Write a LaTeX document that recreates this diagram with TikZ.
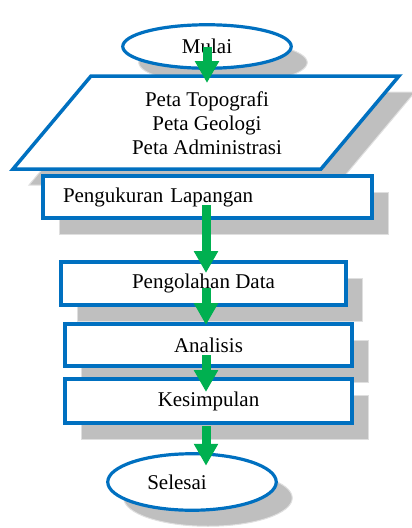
\documentclass[tikz,border=0pt]{standalone}
\usepackage{fontspec}
\setmainfont{Liberation Serif}
\usetikzlibrary{shapes.geometric,shadows,arrows.meta,calc}
\definecolor{biru}{HTML}{0070C0}
\definecolor{hijau}{HTML}{00B050}
\definecolor{bayang}{HTML}{BFBFBF}

\begin{document}
\begin{tikzpicture}[x=1pt,y=-1pt]
\useasboundingbox (0,0) rectangle (412,528);
\tikzstyle{every node}=[font=\fontsize{21}{24}\selectfont, outer sep=0pt];
\tikzstyle{bayangan}=[copy shadow={shadow xshift=16pt, shadow yshift=-16pt,
  fill=bayang, draw=gray!25, line width=1pt}];
\tikzstyle{kotak}=[rectangle, draw=biru, line width=3.5pt, fill=white, bayangan];
\tikzstyle{oval}=[ellipse, draw=biru, line width=3.2pt, fill=white, bayangan];
\tikzstyle{jajar bayang}=[fill=bayang, draw=gray!25, line width=1pt];
\tikzstyle{jajar}=[fill=white, draw=biru, line width=3.5pt];
\tikzstyle{panah}=[hijau, line width=9pt, -{Triangle[width=23pt,length=22pt]}];

  % mulai
  \node[oval, minimum width=168.5pt, minimum height=43.5pt] (mulai) at (207,46.5) {Mulai};

  % data masukan (jajar genjang)
  \foreach \geser/\gaya in {16/jajar bayang, 0/jajar}
    \draw[\gaya, shift={(\geser,\geser)}] (91,76) -- (399,76) -- (321,169) -- (13,169) -- cycle;
  \node[align=center] (peta) at (207,123) {Peta Topografi\\Peta Geologi\\Peta Administrasi};
  \coordinate (peta-atas) at (207,83);

  % proses
  \node[kotak, minimum width=329pt, minimum height=42pt, text width=289pt,
    inner xsep=20pt, align=left] (ukur) at (207.5,197) {Pengukuran Lapangan};
  \node[kotak, minimum width=285pt, minimum height=43pt] (olah) at (203.5,283.5) {Pengolahan Data};
  \node[kotak, minimum width=287pt, minimum height=42pt] (analisis) at (208.5,345) {Analisis};
  \node[kotak, minimum width=287pt, minimum height=44pt] (simpul) at (208.5,401) {Kesimpulan};

  % selesai
  \node[oval, minimum width=168.5pt, minimum height=56.5pt] (selesai) at (192,482) {Selesai\hspace*{30pt}};

  % panah
  \coordinate (sumbu) at (206,0);
  \draw[panah] (mulai.center) -- (peta-atas);
  \draw[panah] ($(ukur.center -| sumbu)+(0,8)$) -- ($(olah.north -| sumbu)+(0,11)$);
  \draw[panah] ($(olah.center -| sumbu)+(0,4.5)$) -- ($(analisis.north -| sumbu)+(0,1)$);
  \draw[panah] ($(analisis.center -| sumbu)+(0,10)$) -- ($(simpul.north -| sumbu)+(0,13)$);
  \draw[panah] ($(simpul.south -| sumbu)+(0,3)$) -- ($(selesai.north -| sumbu)+(0,12)$);

\end{tikzpicture}
\end{document}
